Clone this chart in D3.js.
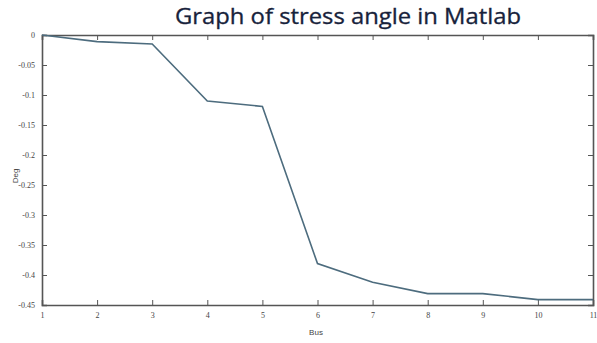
<!DOCTYPE html>
<html>
<head>
<meta charset="utf-8">
<script src="https://cdn.jsdelivr.net/npm/d3@7"></script>
<style>
  body { margin: 0; background: #fff; }
  svg { display: block; }
</style>
</head>
<body>
<script>
// bus numbers and stress angle (deg)
const buses = [1, 2, 3, 4, 5, 6, 7, 8, 9, 10, 11];
const angles = [0, -0.011, -0.015, -0.11, -0.119, -0.381, -0.412, -0.431, -0.431, -0.441, -0.441];
const yTicks = [0, -0.05, -0.1, -0.15, -0.2, -0.25, -0.3, -0.35, -0.4, -0.45];
const yTickLabels = ["0", "-0.05", "-0.1", "-0.15", "-0.2", "-0.25", "-0.3", "-0.35", "-0.4", "-0.45"];

const width = 597, height = 343;
const margin = { top: 35, right: 4, bottom: 38, left: 42 };
const TICK = 5;

const svg = d3.select("body").append("svg")
  .attr("width", width)
  .attr("height", height);

const x = d3.scaleLinear().domain([1, 11]).range([margin.left, width - margin.right]);
const y = d3.scaleLinear().domain([-0.45, 0]).range([height - margin.bottom, margin.top]);

// title
svg.append("text")
  .attr("x", 348)
  .attr("y", 24)
  .attr("text-anchor", "middle")
  .attr("font-family", "Open Sans, sans-serif")
  .attr("font-size", 21)
  .attr("fill", "#17223b")
  .attr("stroke", "#17223b")
  .attr("stroke-width", 0.3)
  .attr("textLength", 346)
  .attr("lengthAdjust", "spacingAndGlyphs")
  .text("Graph of stress angle in Matlab");

const axisColor = "#555";

// bottom axis (ticks inward)
const xAxis = svg.append("g")
  .attr("transform", `translate(0,${y(-0.45)})`)
  .call(d3.axisBottom(x).tickValues(buses).tickSize(-TICK).tickPadding(9).tickFormat(d3.format("d")));
// top axis
const xTop = svg.append("g")
  .attr("transform", `translate(0,${y(0)})`)
  .call(d3.axisTop(x).tickValues(buses).tickSize(-TICK).tickFormat(""));
// left axis
const yAxis = svg.append("g")
  .attr("transform", `translate(${x(1)},0)`)
  .call(d3.axisLeft(y).tickValues(yTicks).tickSize(-TICK).tickPadding(7)
    .tickFormat((d, i) => yTickLabels[i]));
// right axis
const yRight = svg.append("g")
  .attr("transform", `translate(${x(11)},0)`)
  .call(d3.axisRight(y).tickValues(yTicks).tickSize(-TICK).tickFormat(""));

[xAxis, xTop, yAxis, yRight].forEach(g => {
  g.select(".domain").attr("stroke", axisColor).attr("stroke-width", 1.6);
  g.selectAll(".tick line").attr("stroke", axisColor).attr("stroke-width", 1);
  g.selectAll(".tick text")
    .attr("fill", "#444")
    .attr("font-family", "Liberation Serif, serif")
    .attr("font-size", 8);
});
xAxis.selectAll(".tick text").attr("dy", "0.5em");

// the line
const line = d3.line()
  .x((d, i) => x(buses[i]))
  .y(d => y(d));

svg.append("path")
  .datum(angles)
  .attr("fill", "none")
  .attr("stroke", "#4d6c7e")
  .attr("stroke-width", 1.6)
  .attr("d", line);

// axis labels
svg.append("text")
  .attr("x", 316)
  .attr("y", 335)
  .attr("text-anchor", "middle")
  .attr("font-family", "Liberation Sans, sans-serif")
  .attr("font-size", 8)
  .attr("fill", "#444")
  .text("Bus");

svg.append("text")
  .attr("transform", "translate(18,176) rotate(-90)")
  .attr("text-anchor", "middle")
  .attr("font-family", "Liberation Sans, sans-serif")
  .attr("font-size", 8)
  .attr("fill", "#444")
  .text("Deg");
</script>
</body>
</html>
